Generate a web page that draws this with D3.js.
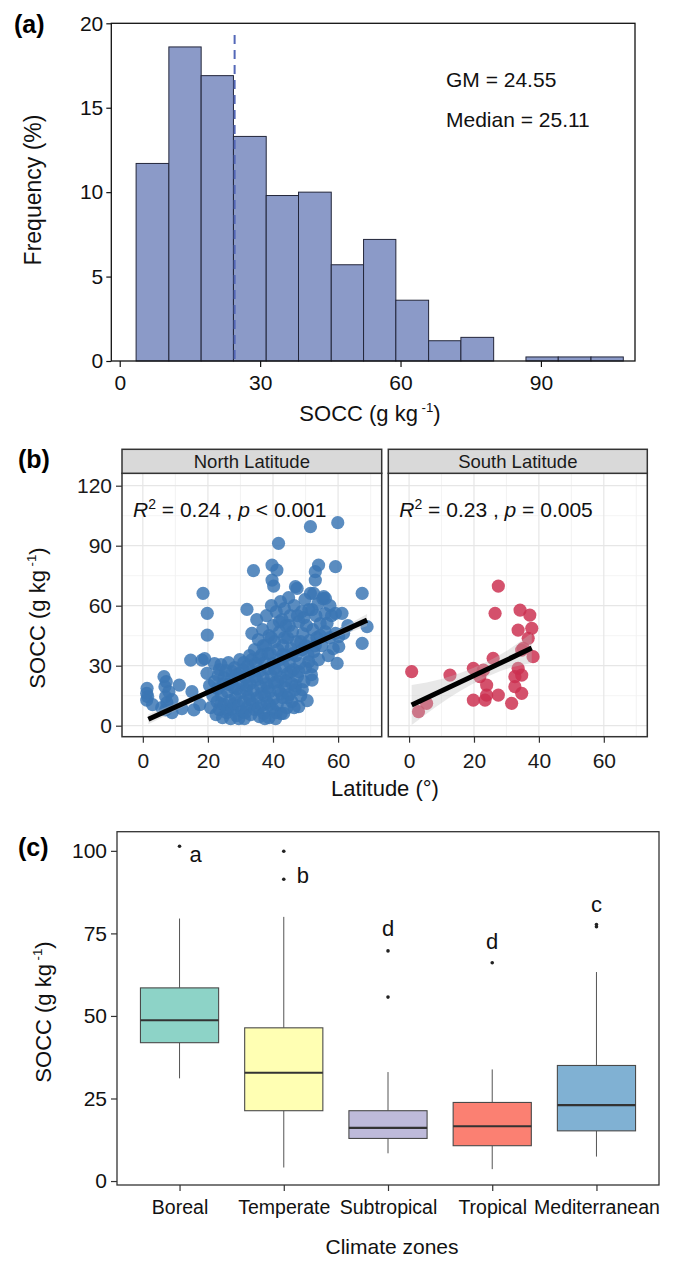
<!DOCTYPE html>
<html>
<head>
<meta charset="utf-8">
<script src="https://cdn.jsdelivr.net/npm/d3@7"></script>
<style>
  body { margin: 0; background: #fff; }
  svg { display: block; font-family: "Liberation Sans", Arial, sans-serif; }
</style>
</head>
<body>
<div id="chart"></div>
<script>
// ---- (a) histogram data ----
const binEdges = [3.5, 10.5, 17.4, 24.3, 31.3, 38.2, 45.2, 52.1, 59.0, 66.0, 72.9, 79.9, 86.8, 93.7, 100.7, 107.6];
const binFreq = [11.7, 18.6, 16.9, 13.3, 9.8, 10.0, 5.7, 7.2, 3.6, 1.2, 1.4, 0, 0.24, 0.24, 0.24];
const gmValue = 24.55;
const statLabels = ['GM = 24.55', 'Median = 25.11'];
const histXTicks = [0, 30, 60, 90];
const histYTicks = [0, 5, 10, 15, 20];

// ---- (b) scatter data [latitude, SOCC] ----
const northPoints = [
  [1.2, 12.8], [1.2, 16.2], [1.3, 18.7], [1.5, 14.5], [3.0, 10.5], [5.8, 9.0], [6.5, 24.5], [6.8, 19.5], [7.0, 14.5],
  [7.2, 22.0], [7.4, 11.5], [7.0, 7.9], [8.0, 17.0], [9.0, 6.5], [9.0, 13.0], [11.2, 20.3], [12.0, 8.5], [14.7, 32.8],
  [15.7, 7.9], [15.1, 17.0], [17.5, 10.5], [18.2, 32.8], [18.5, 66.2], [19.8, 56.2], [19.8, 45.3], [19.7, 26.2],
  [19.0, 33.5], [20.5, 20.0], [20.8, 9.0], [21.5, 15.0], [22.0, 22.0],
  [22.0, 31.0], [22.5, 5.5], [22.8, 12.0], [23.0, 18.5], [23.2, 25.0], [23.5, 8.0], [23.5, 28.0], [24.0, 30.5],
  [24.0, 11.0], [24.2, 15.0], [24.5, 4.0], [24.8, 21.0], [25.0, 10.5], [25.0, 24.0], [25.5, 27.5], [25.8, 6.5],
  [26.0, 17.0], [26.0, 8.0], [26.3, 31.5], [26.5, 20.5], [26.8, 12.5], [27.0, 3.5], [27.2, 23.0], [27.5, 8.5],
  [27.5, 27.0], [28.0, 19.0], [28.0, 11.0], [28.2, 29.0], [28.5, 14.0], [28.8, 5.0], [29.0, 25.5], [29.0, 18.5],
  [29.5, 10.0], [29.5, 3.5], [29.8, 33.0], [30.0, 16.5], [30.0, 26.0], [30.2, 21.5], [30.5, 7.0], [30.8, 28.0],
  [31.0, 12.0], [31.0, 31.5], [31.2, 3.5], [31.5, 24.0], [31.5, 6.5], [31.8, 18.0], [32.0, 58.2], [32.0, 9.0],
  [32.0, 20.0], [32.3, 30.0], [32.5, 14.5], [32.8, 35.0], [33.0, 21.0], [33.0, 13.0], [33.2, 5.5], [33.5, 46.2],
  [33.5, 27.0], [33.5, 33.0], [33.8, 11.0], [34.0, 77.5], [34.0, 17.5], [34.3, 38.0], [34.5, 8.0], [34.5, 24.5],
  [34.8, 31.0], [35.0, 23.0], [35.0, 53.0], [35.3, 14.0], [35.5, 43.0], [35.5, 8.5], [35.8, 4.5], [35.8, 34.0],
  [36.0, 27.5], [36.2, 19.5], [36.5, 35.5], [36.5, 10.0], [36.5, 16.0], [36.8, 48.0], [37.0, 24.0], [37.0, 40.0],
  [37.2, 6.0], [37.5, 31.5], [37.5, 15.0], [37.5, 3.5], [37.8, 40.0], [38.0, 21.0], [38.0, 55.0], [38.3, 11.5],
  [38.5, 28.5], [38.5, 19.0], [38.5, 36.0], [38.8, 4.0], [38.8, 45.0],
  [39.0, 17.0], [39.0, 10.5], [39.2, 36.0], [39.5, 60.0], [39.5, 25.0], [39.5, 44.0], [39.7, 72.8], [39.7, 80.3],
  [39.8, 8.5], [40.0, 50.0], [40.0, 31.0], [40.2, 13.5], [40.2, 69.8], [40.5, 42.0], [40.5, 21.5], [40.5, 28.5],
  [40.8, 3.5], [41.0, 57.0], [41.0, 27.0], [41.0, 6.5], [41.2, 77.8], [41.3, 10.5], [41.5, 38.0], [41.5, 22.0],
  [41.7, 91.2], [41.8, 17.5], [42.0, 47.0], [42.0, 33.0], [42.0, 52.0], [42.3, 62.0], [42.5, 6.0], [42.5, 24.0],
  [42.5, 16.0], [42.8, 53.0], [43.0, 14.0], [43.0, 40.0], [43.0, 35.5], [43.3, 6.2], [43.3, 29.5], [43.5, 58.5],
  [43.5, 44.0], [43.8, 19.0], [44.0, 35.0], [44.0, 50.0], [44.0, 22.5], [44.3, 9.0], [44.5, 44.0], [44.5, 26.0],
  [44.5, 14.0], [44.8, 64.0], [45.0, 15.5], [45.0, 31.5], [45.0, 50.0], [45.3, 55.0], [45.5, 38.5], [45.5, 27.0],
  [45.8, 21.0], [45.8, 12.0],
  [46.0, 47.0], [46.0, 36.0], [46.3, 28.0], [46.5, 60.0], [46.5, 9.0], [46.8, 18.0], [46.9, 69.5], [47.0, 35.0],
  [47.0, 20.0], [47.2, 42.0], [47.4, 68.7], [47.5, 24.5], [47.5, 55.0], [47.9, 9.5], [48.0, 52.0], [48.0, 27.0],
  [48.2, 31.0], [48.5, 15.0], [48.5, 42.0], [48.8, 57.0], [49.0, 38.0], [49.0, 18.0], [49.2, 46.0], [49.5, 22.0],
  [49.5, 54.0], [49.8, 63.0], [50.0, 29.0], [50.0, 40.0], [50.3, 50.0], [50.5, 12.5], [50.8, 35.5], [51.0, 58.0],
  [51.0, 32.0], [51.2, 42.5], [51.5, 99.5], [51.5, 66.2], [51.8, 25.5], [52.0, 22.8], [52.0, 29.5], [52.0, 58.0],
  [52.2, 48.0], [52.5, 66.2], [52.5, 37.0], [53.0, 72.8], [53.0, 77.0], [53.0, 40.0], [53.2, 55.0], [53.5, 44.0],
  [53.8, 61.0], [54.0, 80.3], [54.0, 33.0],
  [54.5, 51.0], [54.5, 45.0], [55.0, 40.0], [55.3, 63.5], [55.6, 64.5], [56.0, 47.0], [56.0, 56.0], [56.1, 63.7],
  [56.6, 51.2], [57.0, 35.0], [57.5, 44.0], [58.0, 55.0], [59.2, 46.2], [59.2, 56.2], [59.2, 79.5], [59.7, 31.2],
  [59.9, 101.5], [60.2, 44.5], [60.2, 39.5], [61.2, 56.2], [61.7, 46.2], [67.4, 66.2], [67.4, 41.2], [68.9, 49.5],
  [63.0, 50.0], [57.5, 60.0], [58.5, 38.5]
];
const southPoints = [
  [0.8, 27.0], [2.9, 7.0], [5.4, 11.2], [12.6, 25.3], [19.8, 28.7], [19.8, 12.8], [21.8, 24.5], [22.9, 27.8],
  [23.9, 20.3], [23.9, 15.3], [23.4, 12.8], [25.9, 33.7], [27.5, 15.3], [27.5, 69.8], [26.5, 56.2], [31.6, 11.2],
  [32.6, 19.5], [33.6, 28.7], [34.7, 25.3], [34.7, 16.2], [35.2, 38.7], [33.6, 47.8], [34.2, 57.8], [37.2, 55.3],
  [37.8, 48.7], [36.7, 43.7], [38.2, 34.5], [34.7, 37.8], [32.6, 24.5]
];
const northFit = { intercept: 1.95, slope: 0.738, from: 1.7, to: 68.9 };
const southFit = { intercept: 9.7, slope: 0.77, from: 0.8, to: 37.8 };
const northBandLat = [1.7, 20, 38, 55, 68.9];
const northBandHalf = [2.5, 1.2, 0.7, 1.2, 3.0];
const southBandLat = [0.8, 10, 22, 30, 37.8];
const southBandHalf = [10, 6, 3.8, 4.5, 7.5];
const facetNames = ['North Latitude', 'South Latitude'];
const fitStats = [['0.24', '<', '0.001'], ['0.23', '=', '0.005']];
const latTicks = [0, 20, 40, 60];
const latMinor = [10, 30, 50, 70];
const soccTicks = [0, 30, 60, 90, 120];
const soccMinor = [15, 45, 75, 105];

// ---- (c) box plot data ----
const zones = ['Boreal', 'Temperate', 'Subtropical', 'Tropical', 'Mediterranean'];
const boxLow = [31.1, 4.1, 8.4, 3.6, 7.4];
const boxQ1 = [41.9, 21.3, 12.9, 10.7, 15.2];
const boxMedian = [48.7, 32.8, 16.1, 16.6, 23.0];
const boxQ3 = [58.5, 46.4, 21.3, 23.8, 35.0];
const boxHigh = [79.5, 80.0, 33.0, 33.8, 63.3];
const boxOutliers = [[101.4], [99.9, 91.4], [69.7, 55.7], [66.1], [77.7, 77.0]];
const sigLetters = ['a', 'b', 'd', 'd', 'c'];
const sigLetterY = [98.7, 92.3, 76.3, 72.4, 83.6];
const boxTicks = [0, 25, 50, 75, 100];
const zoneColors = ['#8dd3c7', '#ffffb3', '#bebada', '#fb8072', '#80b1d3'];

const W = 679, H = 1261;
const svg = d3.select('#chart').append('svg').attr('width', W).attr('height', H);

function soccTitle(sel) {
  sel.append('tspan').text('SOCC (g kg');
  sel.append('tspan').attr('dy', -9).attr('font-size', '0.6em').text(' -1');
  sel.append('tspan').attr('dy', 9).text(')');
}

// ================= (a) =================
const a = { left: 111.3, right: 635, top: 23.3, bottom: 361 };
const ax = d3.scaleLinear().domain([-1.8, 110.1]).range([a.left, a.right]);
const ay = d3.scaleLinear().domain([0, 20]).range([a.bottom, a.top]);
const gA = svg.append('g');

gA.selectAll('.bar')
  .data(binFreq.map((f, i) => ({ x0: binEdges[i], x1: binEdges[i + 1], f })).filter(d => d.f > 0))
  .enter()
  .append('rect')
  .attr('class', 'bar')
  .attr('x', d => ax(d.x0))
  .attr('y', d => ay(d.f))
  .attr('width', d => ax(d.x1) - ax(d.x0))
  .attr('height', d => ay(0) - ay(d.f))
  .attr('fill', '#8b9ac8')
  .attr('stroke', '#23263a')
  .attr('stroke-width', 1);

gA.append('line')
  .attr('x1', ax(gmValue)).attr('x2', ax(gmValue))
  .attr('y1', ay(19.3)).attr('y2', ay(0))
  .attr('stroke', '#5468b8').attr('stroke-width', 2)
  .attr('stroke-dasharray', '9,6');

gA.append('rect')
  .attr('x', a.left).attr('y', a.top)
  .attr('width', a.right - a.left).attr('height', a.bottom - a.top)
  .attr('fill', 'none').attr('stroke', '#111').attr('stroke-width', 1.3);

const axA = gA.append('g').attr('transform', `translate(0,${a.bottom})`)
  .call(d3.axisBottom(ax).tickValues(histXTicks).tickSize(6).tickSizeOuter(0));
axA.select('.domain').remove();
axA.selectAll('text').attr('font-size', 21).attr('fill', '#111').attr('dy', '0.95em');
axA.selectAll('line').attr('stroke', '#111').attr('stroke-width', 1.2);

const ayA = gA.append('g').attr('transform', `translate(${a.left},0)`)
  .call(d3.axisLeft(ay).tickValues(histYTicks).tickSize(5).tickSizeOuter(0));
ayA.select('.domain').remove();
ayA.selectAll('text').attr('font-size', 21).attr('fill', '#111').attr('x', -8);
ayA.selectAll('line').attr('stroke', '#111').attr('stroke-width', 1.2);

gA.selectAll('.stat')
  .data(statLabels)
  .enter()
  .append('text')
  .attr('x', 446)
  .attr('y', (d, i) => 87 + i * 40)
  .attr('font-size', 21)
  .attr('fill', '#111')
  .text(d => d);

gA.append('text')
  .attr('text-anchor', 'middle')
  .attr('transform', 'rotate(-90)')
  .attr('x', -190).attr('y', 41)
  .attr('font-size', 23).attr('fill', '#111')
  .text('Frequency (%)');

gA.append('text')
  .attr('text-anchor', 'middle')
  .attr('x', 370).attr('y', 421)
  .attr('font-size', 22).attr('fill', '#111')
  .call(soccTitle);

gA.append('text').attr('x', 14).attr('y', 33)
  .attr('font-size', 25).attr('font-weight', 'bold').text('(a)');

// ================= (b) =================
const bTop = 473.3, bBottom = 736.7, stripTop = 449.3;
const panels = [
  { left: 122, right: 381.7, pts: northPoints, fit: northFit, bandLat: northBandLat, bandHalf: northBandHalf, color: '#3a76b4' },
  { left: 388.3, right: 647.3, pts: southPoints, fit: southFit, bandLat: southBandLat, bandHalf: southBandHalf, color: '#cc3050' }
];
const by = d3.scaleLinear().domain([-5.5, 126.2]).range([bBottom, bTop]);

panels.forEach((p, k) => {
  const bx = d3.scaleLinear().domain([-6.4, 73.4]).range([p.left, p.right]);
  const g = svg.append('g');
  const clipId = 'clip' + k;
  g.append('clipPath').attr('id', clipId).append('rect')
    .attr('x', p.left).attr('y', bTop).attr('width', p.right - p.left).attr('height', bBottom - bTop);

  // grid
  const grid = g.append('g').attr('clip-path', `url(#${clipId})`);
  grid.selectAll('.vmin').data(latMinor).enter().append('line')
    .attr('x1', d => bx(d)).attr('x2', d => bx(d)).attr('y1', bTop).attr('y2', bBottom)
    .attr('stroke', '#f0f0f0').attr('stroke-width', 0.8);
  grid.selectAll('.hmin').data(soccMinor).enter().append('line')
    .attr('x1', p.left).attr('x2', p.right).attr('y1', d => by(d)).attr('y2', d => by(d))
    .attr('stroke', '#f0f0f0').attr('stroke-width', 0.8);
  grid.selectAll('.vmaj').data(latTicks).enter().append('line')
    .attr('x1', d => bx(d)).attr('x2', d => bx(d)).attr('y1', bTop).attr('y2', bBottom)
    .attr('stroke', '#e6e6e6').attr('stroke-width', 1.2);
  grid.selectAll('.hmaj').data(soccTicks).enter().append('line')
    .attr('x1', p.left).attr('x2', p.right).attr('y1', d => by(d)).attr('y2', d => by(d))
    .attr('stroke', '#e6e6e6').attr('stroke-width', 1.2);

  const plot = g.append('g').attr('clip-path', `url(#${clipId})`);
  plot.selectAll('circle').data(p.pts).enter().append('circle')
    .attr('cx', d => bx(d[0])).attr('cy', d => by(d[1])).attr('r', 6.6)
    .attr('fill', p.color).attr('fill-opacity', 0.84);

  const band = p.bandLat.map((lat, i) => {
    const m = p.fit.intercept + p.fit.slope * lat;
    return { lat, lo: m - p.bandHalf[i], hi: m + p.bandHalf[i] };
  });
  plot.append('path').datum(band)
    .attr('d', d3.area().curve(d3.curveMonotoneX).x(d => bx(d.lat)).y0(d => by(d.lo)).y1(d => by(d.hi)))
    .attr('fill', '#bdbdbd').attr('fill-opacity', 0.35);

  plot.append('line')
    .attr('x1', bx(p.fit.from)).attr('y1', by(p.fit.intercept + p.fit.slope * p.fit.from))
    .attr('x2', bx(p.fit.to)).attr('y2', by(p.fit.intercept + p.fit.slope * p.fit.to))
    .attr('stroke', '#000').attr('stroke-width', 5);

  // annotation
  const st = fitStats[k];
  const t = g.append('text').attr('x', p.left + 11).attr('y', 517).attr('font-size', 21).attr('fill', '#111');
  t.append('tspan').attr('font-style', 'italic').text('R');
  t.append('tspan').attr('dy', -8).attr('font-size', 14).text('2');
  t.append('tspan').attr('dy', 8).text(` = ${st[0]} , `);
  t.append('tspan').attr('font-style', 'italic').text('p');
  t.append('tspan').text(` ${st[1]} ${st[2]}`);

  // border + strip
  g.append('rect').attr('x', p.left).attr('y', bTop).attr('width', p.right - p.left).attr('height', bBottom - bTop)
    .attr('fill', 'none').attr('stroke', '#333').attr('stroke-width', 1.5);
  g.append('rect').attr('x', p.left).attr('y', stripTop).attr('width', p.right - p.left).attr('height', bTop - stripTop)
    .attr('fill', '#d9d9d9').attr('stroke', '#333').attr('stroke-width', 1.5);
  g.append('text').attr('x', (p.left + p.right) / 2).attr('y', (stripTop + bTop) / 2)
    .attr('text-anchor', 'middle').attr('dominant-baseline', 'central')
    .attr('font-size', 18.5).attr('fill', '#1a1a1a').text(facetNames[k]);

  const xa = g.append('g').attr('transform', `translate(0,${bBottom})`)
    .call(d3.axisBottom(bx).tickValues(latTicks).tickSize(6).tickSizeOuter(0));
  xa.select('.domain').remove();
  xa.selectAll('line').attr('stroke', '#333').attr('stroke-width', 1.2);
  xa.selectAll('text').attr('font-size', 21).attr('fill', '#1a1a1a').attr('dy', '1.05em');

  if (k === 0) {
    const ya = g.append('g').attr('transform', `translate(${p.left},0)`)
      .call(d3.axisLeft(by).tickValues(soccTicks).tickSize(6).tickSizeOuter(0));
    ya.select('.domain').remove();
    ya.selectAll('line').attr('stroke', '#333').attr('stroke-width', 1.2);
    ya.selectAll('text').attr('font-size', 21).attr('fill', '#1a1a1a').attr('x', -10);
  }
});

svg.append('text')
  .attr('text-anchor', 'middle').attr('transform', 'rotate(-90)')
  .attr('x', -618).attr('y', 45)
  .attr('font-size', 22).attr('fill', '#111')
  .call(soccTitle);

svg.append('text').attr('text-anchor', 'middle')
  .attr('x', 385).attr('y', 796).attr('font-size', 22).attr('fill', '#111')
  .text('Latitude (°)');

svg.append('text').attr('x', 18).attr('y', 468)
  .attr('font-size', 25).attr('font-weight', 'bold').text('(b)');

// ================= (c) =================
const c = { left: 117, right: 659, top: 831.7, bottom: 1185 };
const cx = d3.scalePoint().domain(zones).range([c.left, c.right]).padding(0.6);
const cy = d3.scaleLinear().domain([-1.2, 105.8]).range([c.bottom, c.top]);
const boxW = cx.step() * 0.75;
const letterDx = [16, 19, 0, 0, 0];
const gC = svg.append('g');

const boxes = zones.map((z, i) => ({
  z, low: boxLow[i], q1: boxQ1[i], med: boxMedian[i], q3: boxQ3[i], high: boxHigh[i],
  out: boxOutliers[i], color: zoneColors[i], letter: sigLetters[i], ly: sigLetterY[i], dx: letterDx[i]
}));

const bg = gC.selectAll('.box').data(boxes).enter().append('g').attr('class', 'box');
bg.append('line')
  .attr('x1', d => cx(d.z)).attr('x2', d => cx(d.z))
  .attr('y1', d => cy(d.high)).attr('y2', d => cy(d.q3))
  .attr('stroke', '#555').attr('stroke-width', 1);
bg.append('line')
  .attr('x1', d => cx(d.z)).attr('x2', d => cx(d.z))
  .attr('y1', d => cy(d.q1)).attr('y2', d => cy(d.low))
  .attr('stroke', '#555').attr('stroke-width', 1);
bg.append('rect')
  .attr('x', d => cx(d.z) - boxW / 2).attr('width', boxW)
  .attr('y', d => cy(d.q3)).attr('height', d => cy(d.q1) - cy(d.q3))
  .attr('fill', d => d.color).attr('stroke', '#4a4a4a').attr('stroke-width', 1.1);
bg.append('line')
  .attr('x1', d => cx(d.z) - boxW / 2).attr('x2', d => cx(d.z) + boxW / 2)
  .attr('y1', d => cy(d.med)).attr('y2', d => cy(d.med))
  .attr('stroke', '#333').attr('stroke-width', 2.2);
bg.selectAll('.out').data(d => d.out.map(v => ({ z: d.z, v }))).enter().append('circle')
  .attr('cx', d => cx(d.z)).attr('cy', d => cy(d.v)).attr('r', 1.8).attr('fill', '#222');
bg.append('text')
  .attr('x', d => cx(d.z) + d.dx).attr('y', d => cy(d.ly) + 7)
  .attr('text-anchor', 'middle').attr('font-size', 22).attr('fill', '#111')
  .text(d => d.letter);

gC.append('rect')
  .attr('x', c.left).attr('y', c.top).attr('width', c.right - c.left).attr('height', c.bottom - c.top)
  .attr('fill', 'none').attr('stroke', '#333').attr('stroke-width', 1.3);

const cxa = gC.append('g').attr('transform', `translate(0,${c.bottom})`)
  .call(d3.axisBottom(cx).tickSize(6).tickSizeOuter(0));
cxa.select('.domain').remove();
cxa.selectAll('line').attr('stroke', '#333').attr('stroke-width', 1.2);
cxa.selectAll('text').attr('font-size', 19.5).attr('fill', '#111').attr('dy', '1.0em');

const cya = gC.append('g').attr('transform', `translate(${c.left},0)`)
  .call(d3.axisLeft(cy).tickValues(boxTicks).tickSize(6).tickSizeOuter(0));
cya.select('.domain').remove();
cya.selectAll('line').attr('stroke', '#333').attr('stroke-width', 1.2);
cya.selectAll('text').attr('font-size', 21).attr('fill', '#111').attr('x', -10);

gC.append('text')
  .attr('text-anchor', 'middle').attr('transform', 'rotate(-90)')
  .attr('x', -1012).attr('y', 51)
  .attr('font-size', 22).attr('fill', '#111')
  .call(soccTitle);

gC.append('text').attr('text-anchor', 'middle')
  .attr('x', 392).attr('y', 1254).attr('font-size', 21).attr('fill', '#111')
  .text('Climate zones');

gC.append('text').attr('x', 18).attr('y', 856)
  .attr('font-size', 25).attr('font-weight', 'bold').text('(c)');
</script>
</body>
</html>
